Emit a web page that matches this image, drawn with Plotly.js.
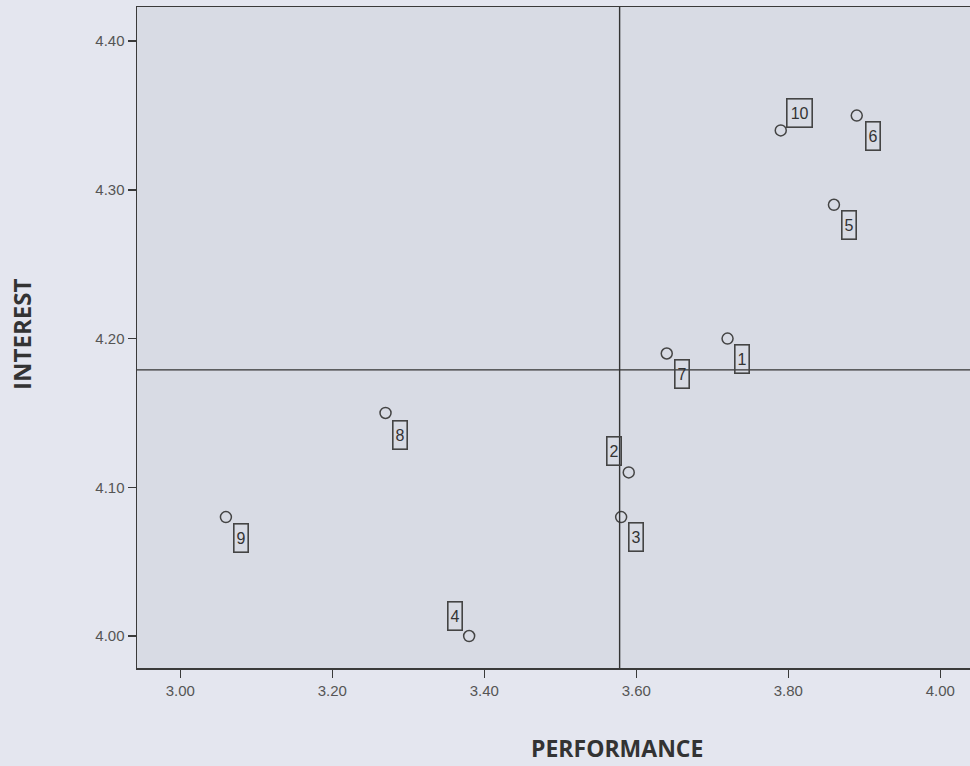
<!DOCTYPE html>
<html>
<head>
<meta charset="utf-8">
<script src="https://cdn.plot.ly/plotly-3.0.1.min.js"></script>
<style>
html,body{margin:0;padding:0;background:#e4e6ef;}
#chart{width:970px;height:766px;}
</style>
</head>
<body>
<div id="chart"></div>
<script>
// Data
const ids = ["1", "2", "3", "4", "5", "6", "7", "8", "9", "10"];
const performance = [3.72, 3.59, 3.58, 3.38, 3.86, 3.89, 3.64, 3.27, 3.06, 3.79];
const interest = [4.20, 4.11, 4.08, 4.00, 4.29, 4.35, 4.19, 4.15, 4.08, 4.34];
const xTickVals = [3.0, 3.2, 3.4, 3.6, 3.8, 4.0];
const yTickVals = [4.0, 4.1, 4.2, 4.3, 4.4];

// Label placement (pixel offsets, style only)
const labelShiftX = [14, -15, 15, -14, 15, 16, 15, 14, 15, 19];
const labelShiftY = [-20, 21, -20, 20, -20, -20, -21, -22, -21, 17];

const mean = a => a.reduce((s, v) => s + v, 0) / a.length;
const refX = mean(performance);
const refY = mean(interest);

const lineColor = "#3a3a3a";

const trace = {
  type: "scatter",
  mode: "markers",
  x: performance,
  y: interest,
  marker: {symbol: "circle-open", size: 11, color: "#444", line: {width: 1.5, color: "#444"}},
  hoverinfo: "skip",
  showlegend: false
};

const annotations = ids.map((t, i) => ({
  x: performance[i], y: interest[i], xref: "x", yref: "y",
  text: t, showarrow: false,
  xshift: labelShiftX[i], yshift: labelShiftY[i],
  font: {family: "Liberation Sans, Arial, sans-serif", size: 16, color: "#333"},
  bordercolor: "#444", borderwidth: 1.6, borderpad: 1,
  width: t.length > 1 ? 22 : 11, height: 25,
  align: "center", valign: "middle"
}));

annotations.push({
  xref: "paper", yref: "paper", x: 0.576, y: -0.121,
  xanchor: "center", yanchor: "middle", showarrow: false,
  text: "<b>PERFORMANCE</b>",
  font: {family: "Open Sans, sans-serif", size: 23, color: "#333"}
});
annotations.push({
  xref: "paper", yref: "paper", x: -0.138, y: 0.504,
  xanchor: "center", yanchor: "middle", showarrow: false, textangle: -90,
  text: "<b>INTEREST</b>",
  font: {family: "Open Sans, sans-serif", size: 24, color: "#333"}
});

const layout = {
  width: 970, height: 766,
  margin: {l: 137, r: 0, t: 7, b: 98},
  paper_bgcolor: "#e4e6ef",
  plot_bgcolor: "#d8dbe4",
  xaxis: {
    range: [2.943, 4.039],
    tickvals: xTickVals,
    ticktext: xTickVals.map(v => v.toFixed(2)),
    showgrid: false, zeroline: false,
    showline: true, linecolor: lineColor, linewidth: 1.5, mirror: true,
    ticks: "outside", ticklen: 8, tickwidth: 1.5, tickcolor: lineColor,
    tickfont: {family: "Liberation Sans, Arial, sans-serif", size: 15, color: "#555"}
  },
  yaxis: {
    range: [3.9785, 4.423],
    tickvals: yTickVals,
    ticktext: yTickVals.map(v => v.toFixed(2)),
    showgrid: false, zeroline: false,
    showline: true, linecolor: lineColor, linewidth: 1.5, mirror: false,
    ticks: "outside", ticklen: 8, tickwidth: 1.5, tickcolor: lineColor,
    tickfont: {family: "Liberation Sans, Arial, sans-serif", size: 15, color: "#555"}
  },
  shapes: [
    {type: "line", xref: "x", yref: "paper", x0: refX, x1: refX, y0: 0, y1: 1,
     line: {color: "#333", width: 1.4}},
    {type: "line", xref: "paper", yref: "y", x0: 0, x1: 1, y0: refY, y1: refY,
     line: {color: "#333", width: 1.4}}
  ],
  annotations: annotations
};

Plotly.newPlot("chart", [trace], layout, {displayModeBar: false, staticPlot: true});
</script>
</body>
</html>
